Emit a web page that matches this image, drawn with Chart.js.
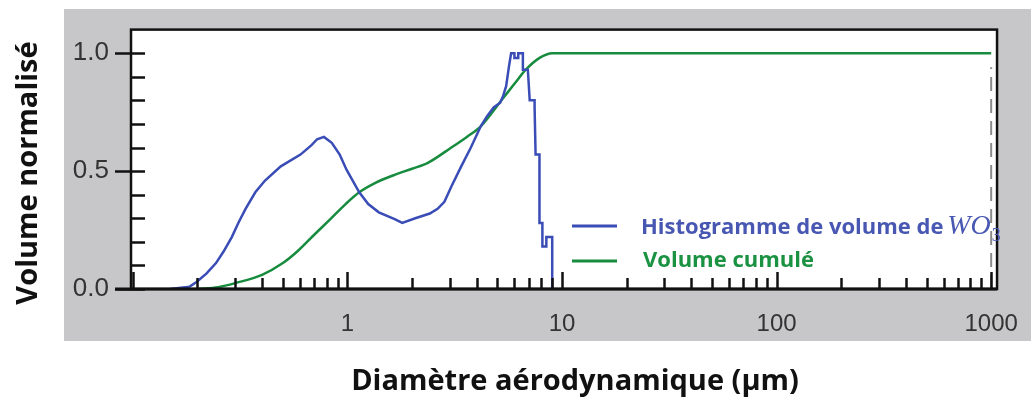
<!DOCTYPE html>
<html>
<head>
<meta charset="utf-8">
<script src="https://cdn.jsdelivr.net/npm/chart.js@4.4.1/dist/chart.umd.min.js"></script>
<style>
    body { margin: 0; background: #fff; }
    #wrap { position: relative; width: 1031px; height: 398px; }
    #panel { position: absolute; left: 64px; top: 9px; width: 967px; height: 332px; background: #c7c7c9; }
    canvas { position: absolute; left: 0; top: 0; }
</style>
</head>
<body>
<div id="wrap">
    <div id="panel"></div>
    <canvas id="sizeChart" width="1031" height="398"></canvas>
</div>
<script>
// Histogramme de volume (diamètre en µm, volume normalisé)
const histDiam = [0.149, 0.184, 0.198, 0.22, 0.244, 0.265, 0.289, 0.31, 0.335, 0.372, 0.413, 0.489, 0.604, 0.68, 0.722, 0.777, 0.845, 0.92, 0.99,
    1.135, 1.25, 1.40, 1.67, 1.80, 2.07, 2.42, 2.63, 2.83, 3.05, 3.39, 3.76, 4.18, 4.45, 4.8, 5.15, 5.32, 5.49, 5.65, 5.79,
    6.0, 6.0, 6.25, 6.25, 6.57, 6.57, 6.93, 7.07, 7.45, 7.45, 7.53, 7.85, 7.85, 8.10, 8.10, 8.45, 8.45, 9.0, 9.0];
const histVol = [0, 0.01, 0.03, 0.065, 0.11, 0.16, 0.22, 0.28, 0.34, 0.41, 0.46, 0.52, 0.57, 0.61, 0.635, 0.645, 0.62, 0.57, 0.506,
    0.41, 0.36, 0.325, 0.295, 0.28, 0.30, 0.32, 0.34, 0.37, 0.435, 0.52, 0.60, 0.69, 0.73, 0.77, 0.79, 0.82, 0.86, 0.94, 1.0,
    1.0, 0.98, 0.98, 1.0, 1.0, 0.93, 0.93, 0.80, 0.80, 0.77, 0.57, 0.57, 0.28, 0.28, 0.18, 0.18, 0.22, 0.22, 0];

// Volume cumulé
const cumDiam = [0.20, 0.25, 0.30, 0.40, 0.50, 0.585, 0.70, 0.83, 0.98, 1.135, 1.35, 1.67, 2.0, 2.37, 3.05, 3.6, 4.18, 5.32, 6.0, 6.78, 7.86, 9.0, 1000];
const cumVol = [0, 0.008, 0.025, 0.06, 0.11, 0.16, 0.23, 0.295, 0.36, 0.41, 0.45, 0.485, 0.51, 0.535, 0.60, 0.645, 0.69, 0.81, 0.87, 0.93, 0.98, 1.0, 1.0];

// Ligne pointillée à 1000 µm
const refDiam = [1000, 1000];
const refVol = [0, 0.94];

const xTickLabels = [1, 10, 100, 1000];
const yTickLabels = [0, 0.5, 1.0];

const blue = 'rgb(58, 76, 182)';
const green = 'rgb(24, 140, 62)';
const tickFont = '"Liberation Sans", Arial, sans-serif';

function toPoints(xs, ys) {
    return xs.map((x, i) => ({ x: x, y: ys[i] }));
}

// Cadre, graduations, légende et titres
const decorations = {
    id: 'decorations',
    beforeDraw(chart) {
        const { ctx, chartArea: a } = chart;
        ctx.save();
        ctx.fillStyle = '#fff';
        ctx.fillRect(a.left, a.top, a.right - a.left, a.bottom - a.top);
        ctx.restore();
    },
    afterDatasetsDraw(chart) {
        const { ctx, chartArea: a, scales: { x, y } } = chart;
        ctx.save();
        ctx.strokeStyle = '#111';
        ctx.lineWidth = 2.5;
        ctx.strokeRect(a.left, a.top, a.right - a.left, a.bottom - a.top);

        // y ticks
        for (let i = 0; i <= 10; i++) {
            const v = i / 10;
            const py = Math.round(y.getPixelForValue(v)) + 0.5;
            const major = yTickLabels.some(t => Math.abs(t - v) < 1e-9);
            ctx.beginPath();
            ctx.moveTo(a.left - (major ? 16 : 0), py);
            ctx.lineTo(a.left + 14, py);
            ctx.stroke();
        }

        // x ticks (log)
        for (let e = -1; e <= 3; e++) {
            for (let m = 1; m <= 9; m++) {
                const v = m * Math.pow(10, e);
                if (v > 1000) break;
                const px = Math.round(x.getPixelForValue(v)) + 0.5;
                ctx.beginPath();
                ctx.moveTo(px, a.bottom);
                ctx.lineTo(px, a.bottom - (m === 1 ? 17 : 11));
                ctx.stroke();
            }
        }
        ctx.lineWidth = 3;
        ctx.beginPath();
        ctx.moveTo(a.left - 16, a.bottom);
        ctx.lineTo(a.right, a.bottom);
        ctx.stroke();

        // legend
        ctx.lineWidth = 3;
        ctx.strokeStyle = blue;
        ctx.beginPath(); ctx.moveTo(572, 226); ctx.lineTo(617, 226); ctx.stroke();
        ctx.strokeStyle = green;
        ctx.beginPath(); ctx.moveTo(572, 261); ctx.lineTo(617, 261); ctx.stroke();

        ctx.textBaseline = 'alphabetic';
        ctx.textAlign = 'left';
        ctx.fillStyle = 'rgb(72, 88, 178)';
        ctx.font = 'bold 22px "Open Sans"';
        const label = 'Histogramme de volume de ';
        ctx.fillText(label, 641, 234);
        let tx = 641 + ctx.measureText(label).width - 2;
        ctx.font = 'italic 28px "Liberation Serif"';
        ctx.fillText('WO', tx, 234);
        tx += ctx.measureText('WO').width;
        ctx.font = '18px "Liberation Serif"';
        ctx.fillText('3', tx + 1, 241);

        ctx.fillStyle = 'rgb(26, 146, 66)';
        ctx.font = 'bold 22px "Open Sans"';
        ctx.fillText('Volume cumulé', 643, 267);

        // axis titles
        ctx.fillStyle = '#111';
        ctx.font = 'bold 29px "Open Sans"';
        ctx.textAlign = 'center';
        ctx.textBaseline = 'middle';
        ctx.fillText('Diamètre aérodynamique (µm)', 575, 382);
        ctx.translate(29, 173);
        ctx.rotate(-Math.PI / 2);
        ctx.fillText('Volume normalisé', 0, 0);
        ctx.restore();
    }
};

const ctx = document.getElementById('sizeChart').getContext('2d');
const sizeChart = new Chart(ctx, {
    type: 'line',
    data: {
        datasets: [{
            label: 'Histogramme de volume de WO3',
            data: toPoints(histDiam, histVol),
            borderColor: blue,
            borderWidth: 2.5,
            pointRadius: 0,
            tension: 0
        }, {
            label: 'Volume cumulé',
            data: toPoints(cumDiam, cumVol),
            borderColor: green,
            borderWidth: 2.5,
            pointRadius: 0,
            cubicInterpolationMode: 'monotone'
        }, {
            label: 'ref',
            data: toPoints(refDiam, refVol),
            borderColor: '#8a8a8a',
            borderWidth: 2,
            borderDash: [14, 8],
            pointRadius: 0
        }]
    },
    options: {
        responsive: false,
        animation: false,
        devicePixelRatio: 1,
        layout: { padding: { left: 0, right: 19, top: 29, bottom: 0 } },
        plugins: {
            legend: { display: false },
            tooltip: { enabled: false }
        },
        scales: {
            x: {
                type: 'logarithmic',
                min: 0.098,
                max: 1065,
                grid: { display: false },
                border: { display: false },
                afterBuildTicks: s => { s.ticks = xTickLabels.map(v => ({ value: v })); },
                afterFit: s => { s.height = 109; },
                ticks: {
                    callback: v => String(v),
                    autoSkip: false,
                    maxRotation: 0,
                    padding: 13,
                    color: '#333',
                    font: { family: tickFont, size: 24 }
                }
            },
            y: {
                min: 0,
                max: 1.1,
                grid: { display: false },
                border: { display: false },
                afterBuildTicks: s => { s.ticks = yTickLabels.map(v => ({ value: v })); },
                afterFit: s => { s.width = 131; },
                ticks: {
                    callback: v => v.toFixed(1),
                    padding: 14,
                    color: '#333',
                    font: { family: tickFont, size: 26 }
                }
            }
        }
    },
    plugins: [decorations]
});
</script>
</body>
</html>
